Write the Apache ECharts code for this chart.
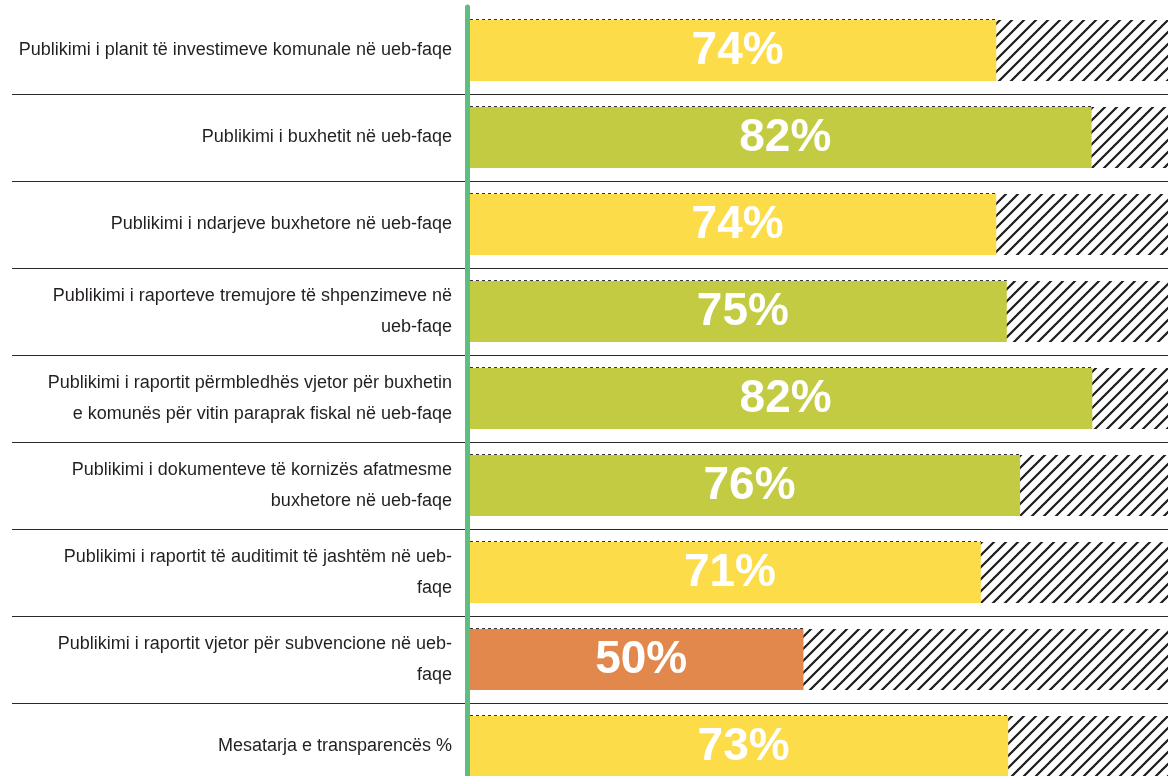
<!DOCTYPE html>
<html>
<head>
<meta charset="utf-8">
<script src="https://cdn.jsdelivr.net/npm/echarts@6/dist/echarts.min.js"></script>
<style>
  html, body { margin: 0; padding: 0; background: #ffffff; }
  #chart { width: 1171px; height: 776px; }
</style>
</head>
<body>
<div id="chart"></div>
<script>
// Row labels (line breaks as in the reference)
const categories = [
  "Publikimi i planit të investimeve komunale në ueb-faqe",
  "Publikimi i buxhetit në ueb-faqe",
  "Publikimi i ndarjeve buxhetore në ueb-faqe",
  "Publikimi i raporteve tremujore të shpenzimeve në\nueb-faqe",
  "Publikimi i raportit përmbledhës vjetor për buxhetin\ne komunës për vitin paraprak fiskal në ueb-faqe",
  "Publikimi i dokumenteve të kornizës afatmesme\nbuxhetore në ueb-faqe",
  "Publikimi i raportit të auditimit të jashtëm në ueb-\nfaqe",
  "Publikimi i raportit vjetor për subvencione në ueb-\nfaqe",
  "Mesatarja e transparencës %"
];
// Percentages printed on the bars
const shownPercent = [74, 82, 74, 75, 82, 76, 71, 50, 73];
// Bar lengths as drawn in the picture, on the 0–100 scale
const barLength = [75.5, 89.1, 75.5, 77.0, 89.2, 78.9, 73.3, 48.0, 77.2];

function colorFor(p) {
  if (p >= 75) return '#C3CB42';
  if (p >= 60) return '#FDDC4A';
  return '#E2884C';
}

// Diagonal hatch tile
function makeHatch() {
  const s = 12;
  const c = document.createElement('canvas');
  c.width = s; c.height = s;
  const g = c.getContext('2d');
  g.fillStyle = '#ffffff';
  g.fillRect(0, 0, s, s);
  g.strokeStyle = '#1c1c1c';
  g.lineWidth = 2.2;
  g.lineCap = 'square';
  g.beginPath();
  g.moveTo(0, s); g.lineTo(s, 0);
  g.moveTo(-2, 2); g.lineTo(2, -2);
  g.moveTo(s - 2, s + 2); g.lineTo(s + 2, s - 2);
  g.stroke();
  return c;
}

const BAR_W = 61;
const chart = echarts.init(document.getElementById('chart'), null, { renderer: 'canvas' });
const gridTop = 7, gridHeight = 783;

chart.setOption({
  animation: false,
  backgroundColor: '#ffffff',
  grid: [
    { left: 12, right: 3, top: gridTop, height: gridHeight, outerBoundsMode: 'none', containLabel: false },
    { left: 467, right: 3, top: gridTop, height: gridHeight, outerBoundsMode: 'none', containLabel: false }
  ],
  xAxis: [
    { gridIndex: 0, type: 'value', min: 0, max: 100, show: false },
    { gridIndex: 1, type: 'value', min: 0, max: 100, show: false }
  ],
  yAxis: [
    {
      gridIndex: 0, type: 'category', inverse: true, data: categories,
      axisLine: { show: false }, axisTick: { show: false }, axisLabel: { show: false },
      splitLine: { show: true, showMinLine: false, lineStyle: { color: '#2a2a2a', width: 1 } }
    },
    {
      gridIndex: 1, type: 'category', inverse: true, data: categories, z: 5,
      axisLine: { show: true, lineStyle: { color: '#5CBF80', width: 5 } },
      axisTick: { show: false },
      splitLine: { show: false },
      axisLabel: {
        margin: 15,
        color: '#231F20',
        fontFamily: '"Liberation Sans", Arial, sans-serif',
        fontSize: 18,
        lineHeight: 31,
        align: 'right'
      }
    }
  ],
  series: [
    {
      type: 'bar',
      xAxisIndex: 1, yAxisIndex: 1,
      data: barLength,
      barWidth: BAR_W,
      z: 2,
      showBackground: true,
      backgroundStyle: {
        color: { image: makeHatch(), repeat: 'repeat' }
      },
      itemStyle: {
        color: p => colorFor(shownPercent[p.dataIndex])
      },
      label: {
        show: true,
        position: 'inside',
        offset: [6, 1],
        formatter: p => shownPercent[p.dataIndex] + '%',
        color: '#ffffff',
        fontFamily: '"Liberation Sans", Arial, sans-serif',
        fontWeight: 'bold',
        fontSize: 46
      }
    },
    {
      // dotted rule along the top edge of each bar
      type: 'custom',
      xAxisIndex: 1, yAxisIndex: 1,
      z: 3,
      silent: true,
      data: barLength.map((v, i) => [v, i]),
      renderItem: function (params, api) {
        const start = api.coord([0, api.value(1)]);
        const end = api.coord([api.value(0), api.value(1)]);
        const y = Math.round(start[1] - BAR_W / 2) - 0.5;
        return {
          type: 'line',
          shape: { x1: start[0] + 3, y1: y, x2: end[0], y2: y },
          style: { stroke: '#333333', lineWidth: 1, lineDash: [3, 3] }
        };
      }
    }
  ]
});
</script>
</body>
</html>
